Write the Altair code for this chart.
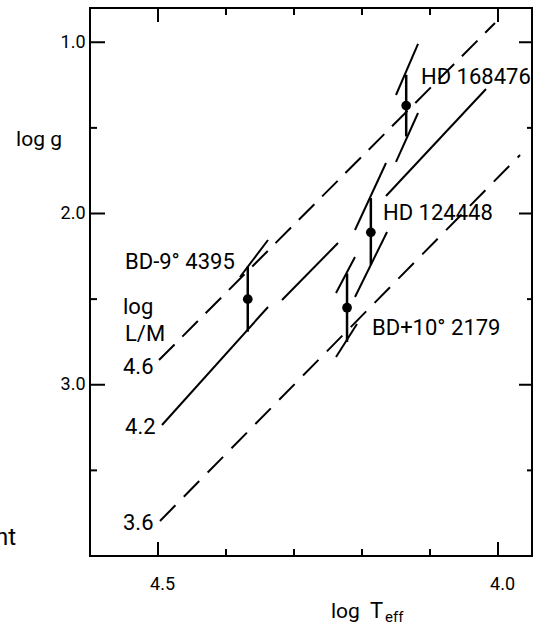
import altair as alt
import pandas as pd

# ---------------- data ----------------
# lines of constant log L/M (log g vs log Teff)
line46_teff = [4.4985, 4.0044]
line46_logg = [2.8555, 0.8876]
line36_teff = [4.4971, 3.9676]
line36_logg = [3.7956, 1.6584]
# log L/M = 4.2 : solid, interrupted in three pieces
line42_teff_a = [4.4941, 4.3176, 4.1647]
line42_logg_a = [3.235, 2.505, 1.898]
line42_teff_b = [4.3382, 4.2353, 4.0176]
line42_logg_b = [2.546, 2.1723, 1.273]

# short steep track pieces through the error-bar ends
track_teff_a = [4.1500, 4.1500, 4.2103, 4.2103, 4.2382, 4.2382, 4.3794]
track_logg_a = [1.308, 1.699, 2.0964, 2.4876, 2.4642, 2.838, 2.3708]
track_teff_b = [4.1176, 4.1176, 4.1647, 4.1632, 4.2103, 4.2074, 4.3382]
track_logg_b = [1.010, 1.413, 1.7051, 2.108, 2.254, 2.6453, 2.1547]

# stars
star_names = ["HD 168476", "HD 124448", "BD+10° 2179", "BD-9° 4395"]
star_teff = [4.135, 4.187, 4.222, 4.368]
star_logg = [1.37, 2.11, 2.55, 2.50]
star_logg_lo = [1.19, 1.91, 2.35, 2.31]
star_logg_hi = [1.55, 2.30, 2.75, 2.69]
label_teff = [4.1132, 4.1691, 4.1853, 4.5485]
label_logg = [1.203, 1.997, 2.6686, 2.2832]

# labels of the L/M lines
lm_texts = ["log", "L/M", "4.6", "4.2", "3.6"]
lm_text_teff = [4.5515, 4.5485, 4.5515, 4.5485, 4.5515]
lm_text_logg = [2.546, 2.7036, 2.8964, 3.2467, 3.8073]

# axis ticks
teff_labels = [4.5, 4.0]
major_teff_ticks = [4.5, 4.0]
minor_teff_ticks = [4.4, 4.3, 4.2, 4.1]
logg_labels = [1.0, 2.0, 3.0]
major_logg_ticks = [1.0, 2.0, 3.0]
minor_logg_ticks = [1.5, 2.5, 3.5]

# ---------------- chart ----------------
W, H = 442, 548
FONT = "Roboto"

xs = alt.Scale(domain=[3.95, 4.6], reverse=True, nice=False, zero=False)
ys = alt.Scale(domain=[0.8, 4.0], reverse=True, nice=False, zero=False)
xaxis = alt.Axis(values=teff_labels, format=".1f", ticks=False, domain=False, grid=False,
                 labelFont=FONT, labelFontSize=18, labelPadding=19, labelColor="black",
                 labelOffset=4, title=None)
yaxis = alt.Axis(values=logg_labels, format=".1f", ticks=False, domain=False, grid=False,
                 labelFont=FONT, labelFontSize=18, labelPadding=5, labelColor="black",
                 title=None)


def X(f):
    return alt.X(f, type="quantitative", scale=xs, axis=xaxis)


def Y(f):
    return alt.Y(f, type="quantitative", scale=ys, axis=yaxis)


def X2(f):
    return alt.X2(f)


def Y2(f):
    return alt.Y2(f)


seg46 = pd.DataFrame({"x": [line46_teff[0]], "y": [line46_logg[0]],
                      "x2": [line46_teff[1]], "y2": [line46_logg[1]]})
seg36 = pd.DataFrame({"x": [line36_teff[0]], "y": [line36_logg[0]],
                      "x2": [line36_teff[1]], "y2": [line36_logg[1]]})
seg42 = pd.DataFrame({"x": line42_teff_a, "y": line42_logg_a,
                      "x2": line42_teff_b, "y2": line42_logg_b})
tracks = pd.DataFrame({"x": track_teff_a, "y": track_logg_a,
                       "x2": track_teff_b, "y2": track_logg_b})
stars = pd.DataFrame({"name": star_names, "x": star_teff, "y": star_logg,
                      "lo": star_logg_lo, "hi": star_logg_hi,
                      "lx": label_teff, "ly": label_logg})
lmtext = pd.DataFrame({"t": lm_texts, "x": lm_text_teff, "y": lm_text_logg})

layers = []

layers.append(alt.Chart(seg46).mark_rule(strokeWidth=2, color="black", strokeDash=[22, 11])
              .encode(x=X("x"), y=Y("y"), x2=X2("x2"), y2=Y2("y2")))
layers.append(alt.Chart(seg36).mark_rule(strokeWidth=2, color="black", strokeDash=[22, 12])
              .encode(x=X("x"), y=Y("y"), x2=X2("x2"), y2=Y2("y2")))
layers.append(alt.Chart(seg42).mark_rule(strokeWidth=2, color="black")
              .encode(x=X("x"), y=Y("y"), x2=X2("x2"), y2=Y2("y2")))
layers.append(alt.Chart(tracks).mark_rule(strokeWidth=2, color="black")
              .encode(x=X("x"), y=Y("y"), x2=X2("x2"), y2=Y2("y2")))
layers.append(alt.Chart(stars).mark_rule(strokeWidth=2.5, color="black")
              .encode(x=X("x"), y=Y("lo"), y2=Y2("hi")))
layers.append(alt.Chart(stars).mark_circle(size=95, color="black", opacity=1)
              .encode(x=X("x"), y=Y("y")))
layers.append(alt.Chart(stars).mark_text(font=FONT, fontSize=22, align="left",
                                         baseline="middle", color="black")
              .encode(x=X("lx"), y=Y("ly"), text="name:N"))
layers.append(alt.Chart(lmtext).mark_text(font=FONT, fontSize=22, align="left",
                                          baseline="middle", color="black")
              .encode(x=X("x"), y=Y("y"), text="t:N"))

# inward ticks on all four sides
tdf_major_x = pd.DataFrame({"v": major_teff_ticks})
tdf_minor_x = pd.DataFrame({"v": minor_teff_ticks})
tdf_major_y = pd.DataFrame({"v": major_logg_ticks})
tdf_minor_y = pd.DataFrame({"v": minor_logg_ticks})
tick_style = dict(strokeWidth=2, color="black")
for df, ln in ((tdf_major_x, 14), (tdf_minor_x, 7)):
    layers.append(alt.Chart(df).mark_rule(**tick_style)
                  .encode(x=X("v"), y=alt.value(0), y2=alt.value(ln)))
    layers.append(alt.Chart(df).mark_rule(**tick_style)
                  .encode(x=X("v"), y=alt.value(H), y2=alt.value(H - ln)))
for df, ln_l, ln_r in ((tdf_major_y, 15, 13), (tdf_minor_y, 7, 5)):
    layers.append(alt.Chart(df).mark_rule(**tick_style)
                  .encode(y=Y("v"), x=alt.value(0), x2=alt.value(ln_l)))
    layers.append(alt.Chart(df).mark_rule(**tick_style)
                  .encode(y=Y("v"), x=alt.value(W), x2=alt.value(W - ln_r)))

# axis titles and stray text
one = pd.DataFrame({"a": ["log g"], "b": ["log"], "b2": ["T"], "c": ["eff"], "d": ["nt"]})
layers.append(alt.Chart(one).mark_text(font=FONT, fontSize=21, align="center",
                                       baseline="alphabetic", color="black")
              .encode(x=alt.value(-51), y=alt.value(138), text="a:N"))
layers.append(alt.Chart(one).mark_text(font=FONT, fontSize=21, align="left",
                                       baseline="alphabetic", color="black")
              .encode(x=alt.value(241), y=alt.value(610), text="b:N"))
layers.append(alt.Chart(one).mark_text(font=FONT, fontSize=22, align="left",
                                       baseline="alphabetic", color="black")
              .encode(x=alt.value(280), y=alt.value(610), text="b2:N"))
layers.append(alt.Chart(one).mark_text(font=FONT, fontSize=15, align="left",
                                       baseline="alphabetic", color="black")
              .encode(x=alt.value(295), y=alt.value(614), text="c:N"))
layers.append(alt.Chart(one).mark_text(font=FONT, fontSize=24, align="right",
                                       baseline="middle", color="black")
              .encode(x=alt.value(-74), y=alt.value(530), text="d:N"))

chart = (
    alt.layer(*layers)
    .properties(width=W, height=H,
                autosize=alt.AutoSizeParams(type="none"),
                padding={"left": 90, "top": 8, "right": 3, "bottom": 70},
                background="white")
    .configure_view(stroke="black", strokeWidth=2)
)

chart.save("out.html", embed_options={"renderer": "svg", "actions": False})
